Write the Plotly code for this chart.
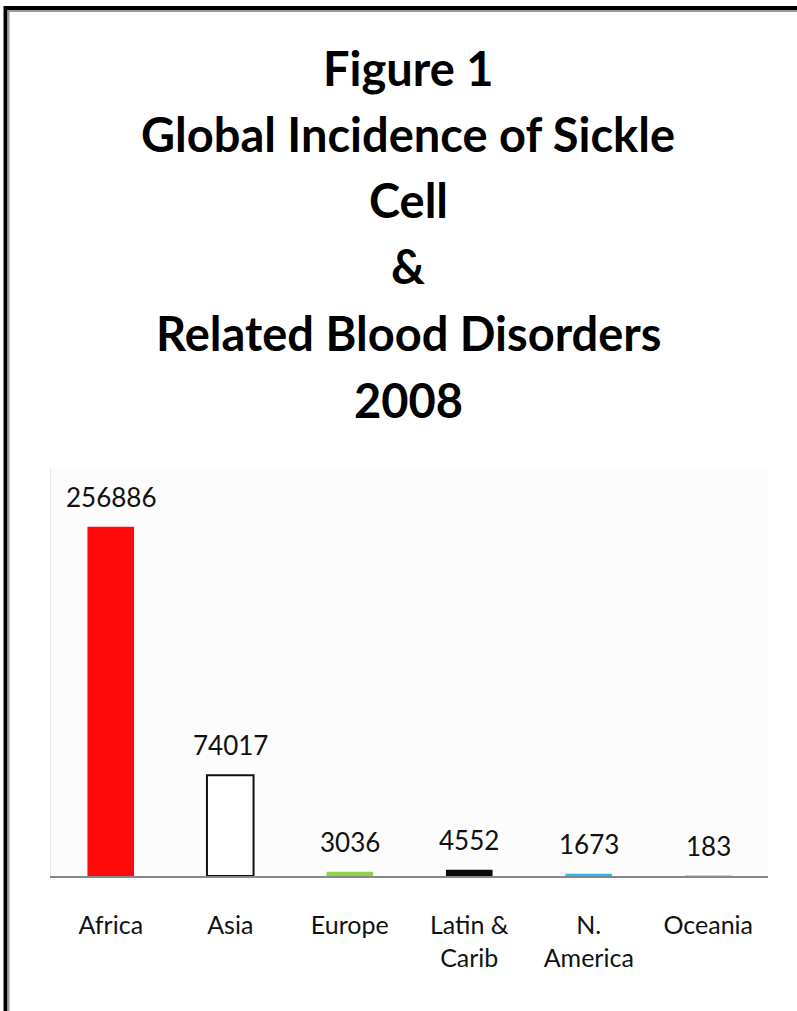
import plotly.graph_objects as go

# ---- data ----
regions = ["Africa", "Asia", "Europe", "Latin &<br>Carib", "N.<br>America", "Oceania"]
incidence = [256886, 74017, 3036, 4552, 1673, 183]
bar_colors = ["#ff0a0a", "#ffffff", "#92d050", "#0a0a0a", "#2bb8f0", "#d0d0d0"]
outline_colors = ["#ff0a0a", "#111111", "#92d050", "#0a0a0a", "#2bb8f0", "#d0d0d0"]
outline_widths = [0, 2, 0, 0, 0, 0]
title_lines = ["Figure 1", "Global Incidence of Sickle", "Cell", "&", "Related Blood Disorders", "2008"]

W, H = 797, 1011
L, R, T, B = 51, 29, 468, 135
PW, PH = W - L - R, H - T - B


def px_x(px):
    return (px - L) / PW


def px_y(py):
    return 1 - (py - T) / PH


fig = go.Figure()
fig.add_trace(go.Bar(
    x=regions, y=incidence,
    marker=dict(color=bar_colors, line=dict(color=outline_colors, width=outline_widths)),
    width=0.39,
    hoverinfo="x+y",
))

annotations = []
for r, v in zip(regions, incidence):
    annotations.append(dict(
        x=r, y=v, xref="x", yref="y", text=str(v), showarrow=False,
        yanchor="bottom", yshift=12,
        font=dict(family="Lato", size=26, color="#111111"),
    ))

title_centers = [68, 134, 200, 266, 333, 400]
for t, cy in zip(title_lines, title_centers):
    annotations.append(dict(
        x=px_x(408), y=px_y(cy), xref="paper", yref="paper", text="<b>" + t + "</b>",
        showarrow=False, xanchor="center", yanchor="middle",
        font=dict(family="Lato", size=47, color="#000000"),
    ))

shapes = [
    # outer black frame (top and left edges only visible)
    dict(type="line", xref="paper", yref="paper",
         x0=px_x(4), x1=px_x(797), y0=px_y(8), y1=px_y(8),
         line=dict(color="#000000", width=4), layer="above"),
    dict(type="line", xref="paper", yref="paper",
         x0=px_x(5.5), x1=px_x(5.5), y0=px_y(6), y1=px_y(1011),
         line=dict(color="#000000", width=4), layer="above"),
    # inner grey edge
    dict(type="line", xref="paper", yref="paper",
         x0=px_x(8), x1=px_x(797), y0=px_y(11), y1=px_y(11),
         line=dict(color="#9a9a9a", width=2), layer="above"),
    dict(type="line", xref="paper", yref="paper",
         x0=px_x(8.5), x1=px_x(8.5), y0=px_y(10), y1=px_y(1011),
         line=dict(color="#9a9a9a", width=2), layer="above"),
]

fig.update_layout(
    width=W, height=H,
    margin=dict(l=L, r=R, t=T, b=B, pad=0),
    paper_bgcolor="#ffffff",
    plot_bgcolor="#fcfcfc",
    showlegend=False,
    annotations=annotations,
    shapes=shapes,
    font=dict(family="Lato", color="#111111"),
)
fig.update_xaxes(
    showline=True, linecolor="#888888", linewidth=2,
    showgrid=False, zeroline=False,
    ticks="", ticklabelstandoff=26,
    tickfont=dict(family="Lato", size=25, color="#111111"),
)
fig.update_yaxes(
    range=[0, 300000], showgrid=False, zeroline=False,
    showticklabels=False, ticks="",
    showline=True, linecolor="#e6e6e6", linewidth=1,
)

fig.write_html("out.html")
